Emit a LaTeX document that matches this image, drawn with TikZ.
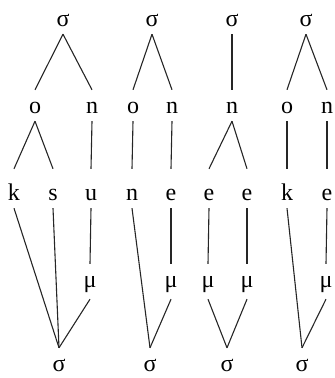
\documentclass[tikz,border=0pt]{standalone}
\usepackage{fontspec}
\setmainfont{Liberation Serif}
\usepackage{tikz}
\tikzset{
  seg/.style  = {anchor=base, inner xsep=0pt, inner ysep=8pt,
                 text height=15pt, text depth=0pt,
                 font=\fontsize{24}{28}\selectfont},
  tall/.style = {seg, text height=23pt},
  mora/.style = {seg, text depth=4pt},
  link/.style = {line width=1.1pt, draw=black!85},
}
\begin{document}
\begin{tikzpicture}[x=1pt, y=-1pt]
  \useasboundingbox (0,0) rectangle (335,378);

  % Tree 1: k s u
  \node[seg]  (st1) at (63,26)  {σ};
  \node[seg]  (o1)  at (35,113) {o};
  \node[seg]  (n1)  at (92,113) {n};
  \node[tall] (k1)  at (14,200) {k};
  \node[tall] (s1)  at (53,200) {s};
  \node[tall] (u1)  at (91,200) {u};
  \node[mora] (m1)  at (90,287) {μ};
  \node[seg]  (sb1) at (59,371) {σ};

  % Tree 2: n e
  \node[seg]  (st2) at (152,26)  {σ};
  \node[seg]  (o2)  at (133,113) {o};
  \node[seg]  (n2)  at (172,113) {n};
  \node[tall] (c2)  at (132,200) {n};
  \node[tall] (e2)  at (171,200) {e};
  \node[mora] (m2)  at (171,287) {μ};
  \node[seg]  (sb2) at (150,371) {σ};

  % Tree 3: e e
  \node[seg]  (st3) at (232,26)  {σ};
  \node[seg]  (n3)  at (232,113) {n};
  \node[tall] (ea3) at (209,200) {e};
  \node[tall] (eb3) at (247,200) {e};
  \node[mora] (ma3) at (208,287) {μ};
  \node[mora] (mb3) at (247,287) {μ};
  \node[seg]  (sb3) at (227,371) {σ};

  % Tree 4: k e
  \node[seg]  (st4) at (306,26)  {σ};
  \node[seg]  (o4)  at (287,113) {o};
  \node[seg]  (n4)  at (327,113) {n};
  \node[tall] (k4)  at (287,200) {k};
  \node[tall] (e4)  at (327,200) {e};
  \node[mora] (m4)  at (326,287) {μ};
  \node[seg]  (sb4) at (302,371) {σ};

  % Links, tree 1
  \draw[link] (st1.south) -- (o1.north);
  \draw[link] (st1.south) -- (n1.north);
  \draw[link] (o1.south) -- (k1.north);
  \draw[link] (o1.south) -- (s1.north);
  \draw[link] (n1.south) -- (u1.north);
  \draw[link] (u1.south) -- (m1.north);
  \draw[link] (k1.south) -- (sb1.north);
  \draw[link] (s1.south) -- (sb1.north);
  \draw[link] (m1.south) -- (sb1.north);

  % Links, tree 2
  \draw[link] (st2.south) -- (o2.north);
  \draw[link] (st2.south) -- (n2.north);
  \draw[link] (o2.south) -- (c2.north);
  \draw[link] (n2.south) -- (e2.north);
  \draw[link] (e2.south) -- (m2.north);
  \draw[link] (c2.south) -- (sb2.north);
  \draw[link] (m2.south) -- (sb2.north);

  % Links, tree 3
  \draw[link] (st3.south) -- (n3.north);
  \draw[link] (n3.south) -- (ea3.north);
  \draw[link] (n3.south) -- (eb3.north);
  \draw[link] (ea3.south) -- (ma3.north);
  \draw[link] (eb3.south) -- (mb3.north);
  \draw[link] (ma3.south) -- (sb3.north);
  \draw[link] (mb3.south) -- (sb3.north);

  % Links, tree 4
  \draw[link] (st4.south) -- (o4.north);
  \draw[link] (st4.south) -- (n4.north);
  \draw[link] (o4.south) -- (k4.north);
  \draw[link] (n4.south) -- (e4.north);
  \draw[link] (e4.south) -- (m4.north);
  \draw[link] (k4.south) -- (sb4.north);
  \draw[link] (m4.south) -- (sb4.north);
\end{tikzpicture}
\end{document}
